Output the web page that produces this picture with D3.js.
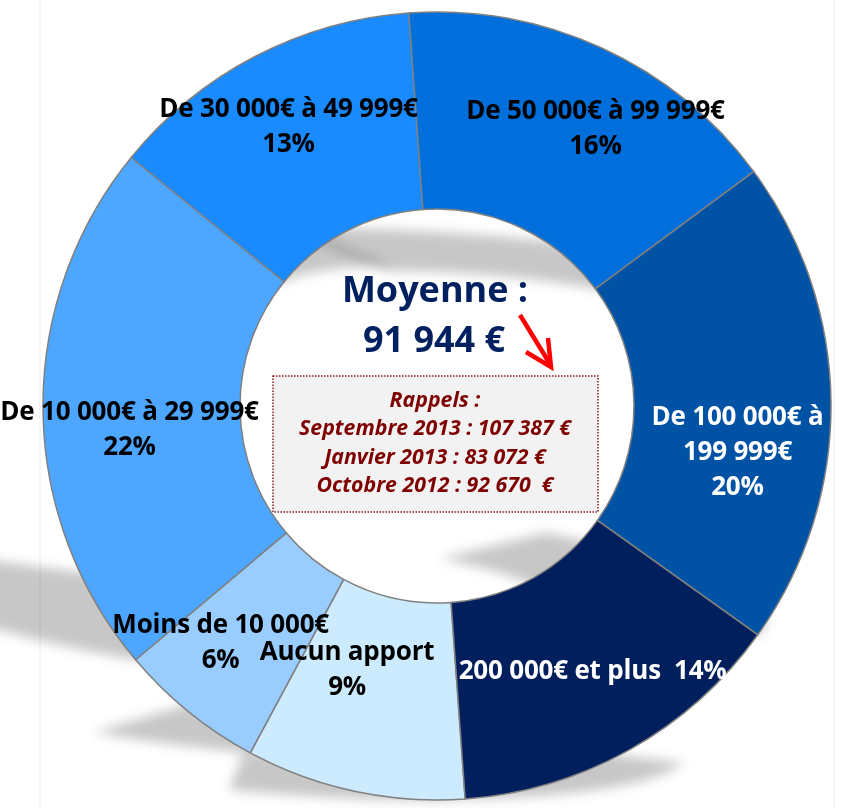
<!DOCTYPE html>
<html>
<head>
<meta charset="utf-8">
<script src="https://cdn.jsdelivr.net/npm/d3@7"></script>
<style>
  body { margin: 0; background: #fff; }
  svg { display: block; }
</style>
</head>
<body>
<svg id="apport" width="843" height="808"></svg>
<script>
// Categories in clockwise order, starting with "Aucun apport"
const categories = ["Aucun apport", "Moins de 10 000€", "De 10 000€ à 29 999€", "De 30 000€ à 49 999€",
                    "De 50 000€ à 99 999€", "De 100 000€ à 199 999€", "200 000€ et plus"];
const shares = [9, 6, 22, 13, 16, 20, 14];
const sliceColors = ["#cdebff", "#99ccff", "#4da6ff", "#1a8aff", "#006fdb", "#0052a5", "#001f5c"];
const labelColors = ["#000", "#000", "#000", "#000", "#000", "#fff", "#fff"];

// Centre texts
const meanTitle = "Moyenne :";
const meanValue = "91 944 €";
const reminders = ["Rappels :", "Septembre 2013 : 107 387 €", "Janvier 2013 : 83 072 €", "Octobre 2012 : 92 670  €"];

document.addEventListener("DOMContentLoaded", function () {
    const svg = d3.select("#apport");
    const cx = 437, cy = 406;
    const outerR = 394, innerR = 197;
    const startDeg = 175.9;

    const font = "'Open Sans', sans-serif";

    // faint frame of the chart area
    [40, 834].forEach(x => {
        svg.append("line")
            .attr("x1", x).attr("x2", x).attr("y1", 0).attr("y2", 808)
            .attr("stroke", "#f3f3f3").attr("stroke-width", 1.5);
    });

    const defs = svg.append("defs");
    defs.append("filter")
        .attr("id", "blur")
        .attr("x", "-50%").attr("y", "-50%").attr("width", "200%").attr("height", "200%")
        .append("feGaussianBlur").attr("stdDeviation", 6);

    const pie = d3.pie().sort(null).value(d => d)
        .startAngle(startDeg * Math.PI / 180)
        .endAngle(startDeg * Math.PI / 180 + 2 * Math.PI);
    const arcs = pie(shares);
    const arc = d3.arc().innerRadius(innerR).outerRadius(outerR);

    const g = svg.append("g").attr("transform", `translate(${cx},${cy})`);

    // Perspective shadows (squashed & skewed up-left from each slice's bottom)
    const shadowG = g.append("g").attr("filter", "url(#blur)");
    const s = 0.22, k = 0.45;
    arcs.forEach(a => {
        const p = shadowG.append("path").attr("d", arc(a));
        const bb = p.node().getBBox();
        const yb = bb.y + bb.height;
        p.attr("transform", `matrix(1,0,${k},${s},${-k * yb},${(1 - s) * yb})`)
         .attr("fill", "#000")
         .attr("opacity", 0.22);
    });

    // Slices
    g.selectAll(".slice")
        .data(arcs)
        .enter()
        .append("path")
        .attr("class", "slice")
        .attr("d", arc)
        .attr("fill", (d, i) => sliceColors[i])
        .attr("stroke", "#808080")
        .attr("stroke-width", 1.5);

    // Labels, placed from slice centroids with small nudges
    const nudges = [[-28, -27], [-30, 6], [-12, 20], [-12, -19], [35, -10], [5, 47], [11, 6]];
    const lineH = 35;
    arcs.forEach((a, i) => {
        const pct = `${shares[i]}%`;
        let lines;
        if (i === 6) lines = [`${categories[i]}  ${pct}`];
        else if (i === 5) lines = ["De 100 000€ à", "199 999€", pct];
        else lines = [categories[i], pct];
        const [mx, my] = arc.centroid(a);
        const x = mx + nudges[i][0];
        const y0 = my + nudges[i][1] - (lines.length - 1) * lineH / 2;
        const t = g.append("text")
            .attr("text-anchor", "middle")
            .attr("xml:space", "preserve")
            .style("font-family", font)
            .style("font-weight", "bold")
            .style("font-size", "26px")
            .style("letter-spacing", "-0.2px")
            .attr("fill", labelColors[i]);
        lines.forEach((ln, j) => {
            t.append("tspan")
                .attr("x", x)
                .attr("y", y0 + j * lineH)
                .attr("dy", "0.35em")
                .text(ln);
        });
    });

    // Centre: mean value
    g.append("text")
        .attr("x", -2).attr("y", -104)
        .attr("text-anchor", "middle")
        .style("font-family", font).style("font-weight", "bold").style("font-size", "36px")
        .attr("fill", "#002060")
        .text(meanTitle);
    g.append("text")
        .attr("x", -3).attr("y", -54)
        .attr("text-anchor", "middle")
        .style("font-family", font).style("font-weight", "bold").style("font-size", "36px")
        .attr("fill", "#002060")
        .text(meanValue);

    // Red arrow
    const arrow = g.append("g")
        .attr("fill", "none").attr("stroke", "#ff0000")
        .attr("stroke-width", 4.5).attr("stroke-linejoin", "miter");
    arrow.append("path").attr("d", "M83,-91 L113,-42");
    arrow.append("path").attr("d", "M111,-68 L114,-39 L89,-54");

    // Reminder box
    g.append("rect")
        .attr("x", 273 - cx).attr("y", 376 - cy)
        .attr("width", 325).attr("height", 136)
        .attr("fill", "#f2f2f2")
        .attr("stroke", "#8b1a1a").attr("stroke-width", 1.5)
        .attr("stroke-dasharray", "1.5 1.5");
    const rt = g.append("text")
        .attr("text-anchor", "middle")
        .attr("xml:space", "preserve")
        .style("font-family", font).style("font-weight", "bold").style("font-style", "italic")
        .style("font-size", "21.3px")
        .attr("fill", "#7f0000");
    reminders.forEach((r, j) => {
        rt.append("tspan").attr("x", -2).attr("y", 1 + j * 28.3).text(r);
    });
});
</script>
</body>
</html>
